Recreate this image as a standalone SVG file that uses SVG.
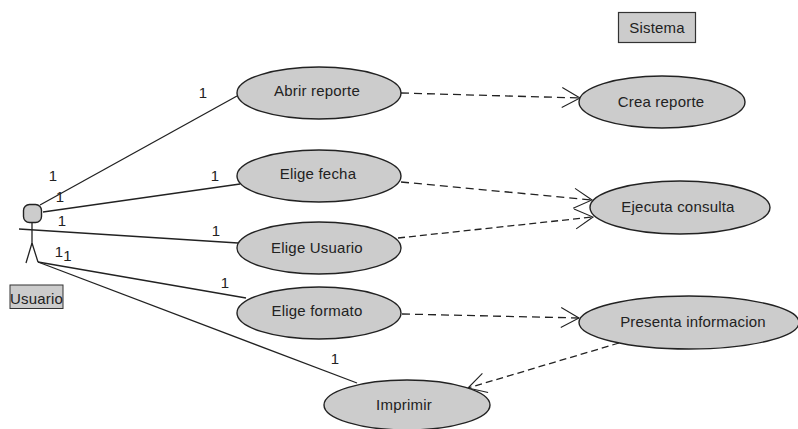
<svg xmlns="http://www.w3.org/2000/svg" width="798" height="429" viewBox="0 0 798 429">
<defs>
<marker id="open" markerUnits="userSpaceOnUse" markerWidth="22" markerHeight="24" refX="19" refY="12" orient="auto"><path d="M1 2L19 12L1 22" fill="none" stroke="#222" stroke-width="1.1"/></marker>
</defs>
<style>
text{font-family:"Liberation Sans",Arial,sans-serif;font-size:15px;letter-spacing:.2px;fill:#222}
.c{text-anchor:middle}
.u{fill:#ccc;stroke:#222;stroke-width:1.4}
.l{fill:none;stroke:#222;stroke-width:1.3}
.d{fill:none;stroke:#222;stroke-width:1.3;stroke-dasharray:8 5;marker-end:url(#open)}
.d2{stroke-dasharray:7 4}
</style>
<rect width="798" height="429" fill="#fff"/>
<g id="connectors">
<path class="l" d="M40 205L237 96"/>
<path class="l" d="M43 212L240 184"/>
<path class="l" d="M19 229L238 243"/>
<path class="l" d="M38 262L246 298"/>
<path class="l" d="M38 262L357 383"/>
<path class="d" d="M401 93L580 98"/>
<path class="d" d="M401 182L592 200"/>
<path class="d d2" d="M398 238L593 217"/>
<path class="d" d="M402 314L579 318"/>
<path class="d d2" d="M619 343L468 388"/>
</g>
<g id="actor-usuario">
<rect x="23.500" y="204.500" width="18" height="18" rx="6" class="u"/>
<path class="l" d="M32 222V243M32 243L26 263M32 243L38 262"/>
<rect x="10" y="285" width="53" height="23.500" fill="#ccc" stroke="#333"/>
<text x="36.500" y="304" class="c">Usuario</text>
</g>
<g id="sistema">
<rect x="618.500" y="12.500" width="77" height="30" fill="#ccc" stroke="#333" stroke-width="1.2"/>
<text x="657" y="33" class="c">Sistema</text>
</g>
<g id="uc-abrir"><ellipse cx="319" cy="93" rx="82" ry="26" class="u"/><text x="317" y="96" class="c">Abrir reporte</text></g>
<g id="uc-fecha"><ellipse cx="319" cy="176" rx="82" ry="26" class="u"/><text x="318" y="179" class="c">Elige fecha</text></g>
<g id="uc-usuario"><ellipse cx="319" cy="248" rx="82" ry="26" class="u"/><text x="317" y="253" class="c">Elige Usuario</text></g>
<g id="uc-formato"><ellipse cx="319" cy="313" rx="82" ry="26" class="u"/><text x="317" y="316" class="c">Elige formato</text></g>
<g id="uc-imprimir"><ellipse cx="407" cy="405" rx="83" ry="25" class="u"/><text x="404" y="410" class="c">Imprimir</text></g>
<g id="uc-crea"><ellipse cx="662" cy="102" rx="83" ry="26" class="u"/><text x="661" y="107" class="c">Crea reporte</text></g>
<g id="uc-ejecuta"><ellipse cx="680" cy="207.500" rx="90" ry="26.500" class="u"/><text x="678" y="212" class="c">Ejecuta consulta</text></g>
<g id="uc-presenta"><ellipse cx="689" cy="322.500" rx="110" ry="26.500" class="u"/><text x="693" y="327" class="c">Presenta informacion</text></g>
<g id="multiplicities">
<text x="203" y="98" class="c">1</text>
<text x="53" y="181" class="c">1</text>
<text x="60" y="202" class="c">1</text>
<text x="62" y="226" class="c">1</text>
<text x="215" y="181" class="c">1</text>
<text x="216" y="236" class="c">1</text>
<text x="59" y="257" class="c">1</text>
<text x="67.500" y="261" class="c">1</text>
<text x="225" y="288" class="c">1</text>
<text x="335" y="364" class="c">1</text>
</g>
</svg>
